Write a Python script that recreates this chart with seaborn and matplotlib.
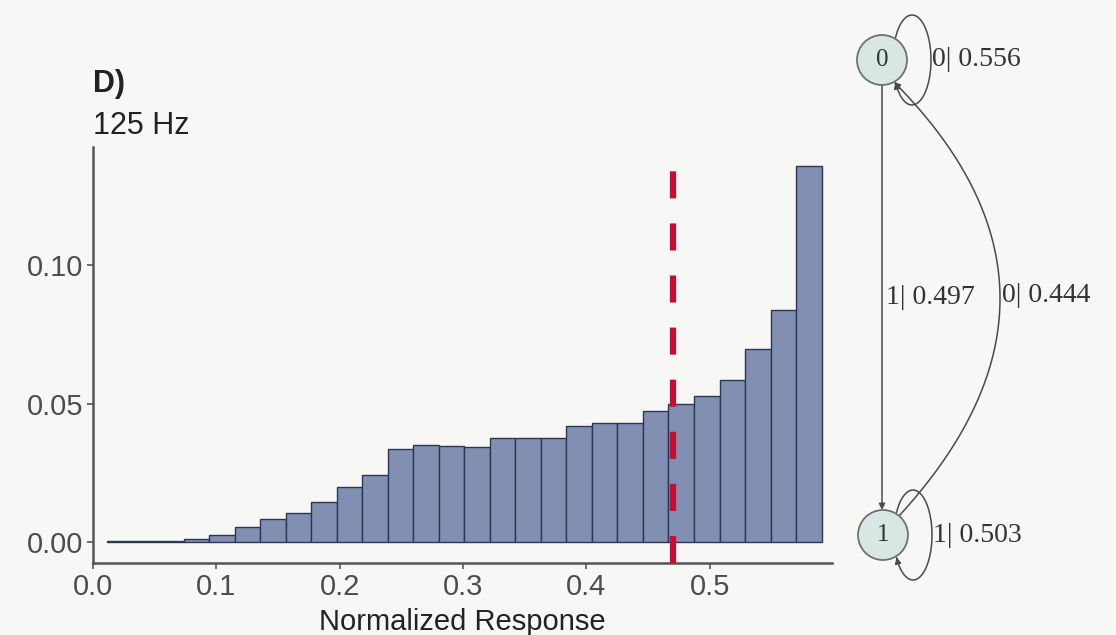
import numpy as np
import pandas as pd
import matplotlib
matplotlib.use("Agg")
import matplotlib.pyplot as plt
import seaborn as sns
from matplotlib.patches import Circle, FancyArrowPatch
from matplotlib.path import Path

# ---------------- data ----------------
bin_start = 0.0115
bin_width = 0.02068
proportions = [0.0003, 0.0003, 0.0005, 0.0012, 0.0024, 0.0054, 0.0084, 0.0103,
               0.0144, 0.0199, 0.0241, 0.0335, 0.0349, 0.0345, 0.0343, 0.0377,
               0.0376, 0.0376, 0.0418, 0.0428, 0.0428, 0.0473, 0.0497, 0.0526,
               0.0584, 0.0697, 0.0837, 0.1357]
threshold = 0.47
x_ticks = [0.0, 0.1, 0.2, 0.3, 0.4, 0.5]
y_ticks = [0.00, 0.05, 0.10]
panel_label = "D)"
subtitle = "125 Hz"
x_label = "Normalized Response"
states = ["0", "1"]
# (from, to, emitted symbol, probability)
transitions = [("0", "0", "0", 0.556),
               ("0", "1", "1", 0.497),
               ("1", "0", "0", 0.444),
               ("1", "1", "1", 0.503)]

# ---------------- style ----------------
BG = "#f7f8f6"
sns.set_theme(style="ticks")
plt.rcParams["font.family"] = ["Liberation Sans", "DejaVu Sans"]
plt.rcParams["lines.scale_dashes"] = False

W, H = 1116, 635
fig = plt.figure(figsize=(W / 100, H / 100), dpi=100, facecolor=BG)
ax = fig.add_axes([93 / W, (H - 563) / H, (832 - 93) / W, (563 - 147) / H])
ax.set_facecolor(BG)

edges = [float(e) for e in bin_start + bin_width * np.arange(len(proportions) + 1)]
centers = [(edges[i] + edges[i + 1]) / 2 for i in range(len(proportions))]
hist_df = pd.DataFrame({"response": centers, "share": proportions})
sns.histplot(data=hist_df, x="response", weights="share", bins=edges,
             stat="count", color="#8190b2", edgecolor="#2e3554",
             linewidth=1.0, alpha=1.0, ax=ax)
ax.axvline(threshold, color="#c40f35", lw=4.5, dashes=(19.5, 18), zorder=5)

ax.set_xlim(0, 0.599)
ax.set_ylim(-0.00758, 0.1426)
ax.set_xticks(x_ticks)
ax.set_xticklabels([f"{t:.1f}" for t in x_ticks])
ax.set_yticks(y_ticks)
ax.set_yticklabels([f"{t:.2f}" for t in y_ticks])
ax.set_ylabel("")
ax.set_xlabel(x_label, fontsize=21, color="#222222", labelpad=5)
ax.tick_params(axis="both", labelsize=21, labelcolor="#4d4d4d", color="#555555",
               length=4, width=1.2, pad=3)
sns.despine(ax=ax)
for s in ["left", "bottom"]:
    ax.spines[s].set_color("#555555")
    ax.spines[s].set_linewidth(1.8)

fig.text(93 / W, 1 - 84 / H, panel_label, fontsize=22, fontweight="bold",
         color="#222222", ha="left", va="center")
fig.text(93 / W, 1 - 126 / H, subtitle, fontsize=22, color="#222222",
         ha="left", va="center")

# ---------------- state diagram ----------------
dg = fig.add_axes([0, 0, 1, 1])
dg.set_xlim(0, W)
dg.set_ylim(H, 0)
dg.axis("off")
dg.patch.set_alpha(0)

node_xy = {"0": (882, 60), "1": (883, 535)}
R = 25
EC = "#4a4a4a"
serif = ["Liberation Serif", "DejaVu Serif"]

for s in states:
    cx, cy = node_xy[s]
    dg.add_patch(Circle((cx, cy), R, facecolor="#d9e7e4", edgecolor="#707070",
                        lw=1.3, zorder=4))
    dg.text(cx, cy, s, fontsize=18, family=serif, color="#333333",
            ha="center", va="center", zorder=5)


def arrow_path(pts):
    return FancyArrowPatch(path=Path(pts), arrowstyle="-|>", mutation_scale=9,
                           color=EC, lw=1.1, zorder=3)


for src, dst, sym, p in transitions:
    label = f"{sym}| {p:.3f}"
    if src == dst:
        cx, cy = node_xy[src]
        ex, a, b = cx + 30, 19, 45
        th = np.radians(np.linspace(-178, 178, 400))
        xs, ys = ex + a * np.cos(th), cy + b * np.sin(th)
        keep = np.hypot(xs - cx, ys - cy) > R + 0.5
        pts = np.column_stack([xs[keep], ys[keep]])
        dg.add_patch(arrow_path(pts))
        dg.text(cx + 50, cy, label, fontsize=20, family=serif, color="#333333",
                ha="left", va="center", zorder=5)
    elif src == "0":
        x0, y0 = node_xy[src]
        x1, y1 = node_xy[dst]
        dg.add_patch(arrow_path(np.array([[x0, y0 + R], [x1 - 1, y1 - R]])))
        dg.text(x0 + 4, (y0 + y1) / 2 + 0.5, label, fontsize=20, family=serif,
                color="#333333", ha="left", va="center", zorder=5)
    else:
        sx, sy = node_xy[src]
        tx, ty = node_xy[dst]
        p0 = np.array([sx + 16, sy - 19])
        p2 = np.array([tx + 12, ty + 22])
        c = np.array([1103.5, 293])
        t = np.linspace(0, 1, 200)[:, None]
        pts = (1 - t) ** 2 * p0 + 2 * t * (1 - t) * c + t ** 2 * p2
        dg.add_patch(arrow_path(pts))
        mid = 0.25 * p0 + 0.5 * c + 0.25 * p2
        dg.text(mid[0] + 2, mid[1], label, fontsize=20, family=serif,
                color="#333333", ha="left", va="center", zorder=5)

fig.savefig("out.png", dpi=100, facecolor=BG)
